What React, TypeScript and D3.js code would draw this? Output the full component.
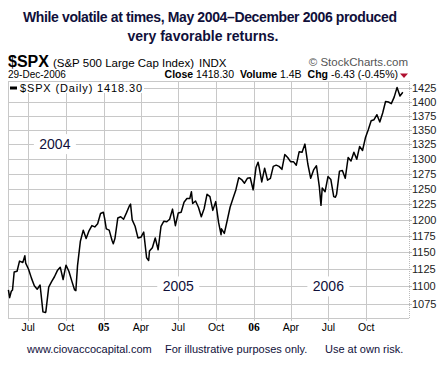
import * as d3 from "d3";
import React from "react";

// weekly closes (plus a few intraweek extremes)
const spx2004: [string, number][] = [
  ["2004-05-14", 1095], ["2004-05-17", 1084], ["2004-05-21", 1093], ["2004-05-24", 1095],
  ["2004-05-28", 1121], ["2004-06-04", 1122], ["2004-06-10", 1137], ["2004-06-18", 1135],
  ["2004-06-23", 1145], ["2004-06-25", 1134], ["2004-07-02", 1125], ["2004-07-09", 1112],
  ["2004-07-16", 1101], ["2004-07-23", 1096], ["2004-07-30", 1102], ["2004-08-06", 1064],
  ["2004-08-12", 1063], ["2004-08-13", 1064], ["2004-08-20", 1099], ["2004-08-27", 1107],
  ["2004-09-03", 1114], ["2004-09-10", 1123], ["2004-09-17", 1128], ["2004-09-24", 1110],
  ["2004-10-01", 1131], ["2004-10-08", 1122], ["2004-10-15", 1108], ["2004-10-22", 1095],
  ["2004-10-25", 1094], ["2004-10-29", 1130], ["2004-11-05", 1167], ["2004-11-12", 1184],
  ["2004-11-19", 1171], ["2004-11-26", 1183], ["2004-12-03", 1191], ["2004-12-10", 1189],
  ["2004-12-17", 1194], ["2004-12-24", 1210], ["2004-12-31", 1212],
];

const spx2005: [string, number][] = [
  ["2005-01-03", 1202], ["2005-01-07", 1186], ["2005-01-14", 1184], ["2005-01-21", 1168],
  ["2005-01-24", 1163], ["2005-01-28", 1171], ["2005-02-04", 1203], ["2005-02-11", 1205],
  ["2005-02-18", 1201], ["2005-02-25", 1211], ["2005-03-04", 1222], ["2005-03-07", 1225],
  ["2005-03-11", 1200], ["2005-03-18", 1190], ["2005-03-25", 1172], ["2005-04-01", 1173],
  ["2005-04-08", 1181], ["2005-04-15", 1142], ["2005-04-20", 1138], ["2005-04-22", 1152],
  ["2005-04-29", 1157], ["2005-05-06", 1172], ["2005-05-13", 1154], ["2005-05-20", 1190],
  ["2005-05-27", 1198], ["2005-06-03", 1197], ["2005-06-10", 1201], ["2005-06-17", 1217],
  ["2005-06-24", 1191], ["2005-07-01", 1211], ["2005-07-08", 1212], ["2005-07-15", 1228],
  ["2005-07-22", 1234], ["2005-07-29", 1234], ["2005-08-02", 1245], ["2005-08-05", 1226],
  ["2005-08-12", 1230], ["2005-08-19", 1220], ["2005-08-26", 1205], ["2005-09-02", 1218],
  ["2005-09-09", 1241], ["2005-09-16", 1237], ["2005-09-23", 1215], ["2005-09-30", 1229],
  ["2005-10-07", 1196], ["2005-10-13", 1177], ["2005-10-14", 1186], ["2005-10-21", 1179],
  ["2005-10-28", 1199], ["2005-11-04", 1220], ["2005-11-11", 1234], ["2005-11-18", 1248],
  ["2005-11-25", 1268], ["2005-12-02", 1265], ["2005-12-09", 1259], ["2005-12-16", 1267],
  ["2005-12-23", 1268], ["2005-12-30", 1248],
];

const spx2006: [string, number][] = [
  ["2006-01-06", 1285], ["2006-01-11", 1294], ["2006-01-13", 1288], ["2006-01-20", 1261],
  ["2006-01-27", 1284], ["2006-02-03", 1264], ["2006-02-10", 1267], ["2006-02-17", 1287],
  ["2006-02-24", 1289], ["2006-03-03", 1287], ["2006-03-10", 1282], ["2006-03-17", 1307],
  ["2006-03-24", 1302], ["2006-03-31", 1295], ["2006-04-07", 1295], ["2006-04-14", 1289],
  ["2006-04-21", 1312], ["2006-04-28", 1311], ["2006-05-05", 1325], ["2006-05-12", 1291],
  ["2006-05-19", 1267], ["2006-05-26", 1281], ["2006-06-02", 1288], ["2006-06-09", 1253],
  ["2006-06-13", 1223], ["2006-06-16", 1251], ["2006-06-23", 1245], ["2006-06-30", 1270],
  ["2006-07-07", 1265], ["2006-07-14", 1237], ["2006-07-18", 1236], ["2006-07-21", 1241],
  ["2006-07-28", 1279], ["2006-08-04", 1280], ["2006-08-11", 1267], ["2006-08-18", 1302],
  ["2006-08-25", 1296], ["2006-09-01", 1311], ["2006-09-08", 1299], ["2006-09-15", 1321],
  ["2006-09-22", 1314], ["2006-09-29", 1336], ["2006-10-06", 1350], ["2006-10-13", 1366],
  ["2006-10-20", 1368], ["2006-10-27", 1377], ["2006-11-03", 1364], ["2006-11-10", 1380],
  ["2006-11-17", 1401], ["2006-11-24", 1400], ["2006-12-01", 1397], ["2006-12-08", 1409],
  ["2006-12-15", 1427], ["2006-12-22", 1411], ["2006-12-29", 1418],
];

const yTicks = [1075, 1100, 1125, 1150, 1175, 1200, 1225, 1250, 1275, 1300, 1325, 1350, 1375, 1400, 1425];
const xTicks: [string, string, boolean][] = [
  ["2004-07-01", "Jul", false], ["2004-10-01", "Oct", false], ["2005-01-01", "05", true],
  ["2005-04-01", "Apr", false], ["2005-07-01", "Jul", false], ["2005-10-01", "Oct", false],
  ["2006-01-01", "06", true], ["2006-04-01", "Apr", false], ["2006-07-01", "Jul", false],
  ["2006-10-01", "Oct", false],
];
// year notes: label, date for x, level for y
const yearNotes: [string, string, number][] = [
  ["2004", "2004-09-04", 1325],
  ["2005", "2005-07-01", 1100],
  ["2006", "2006-07-01", 1100],
];

const W = 445;
const H = 372;
const left = 8;
const right = 409;
const top = 81;
const bottom = 318;
const ink = "#10103a";
const sans = "'Liberation Sans', Arial, sans-serif";

const parse = d3.timeParse("%Y-%m-%d");

const App: React.FC = () => {
  const data = [...spx2004, ...spx2005, ...spx2006].map(([d, v]) => ({ date: parse(d)!, v }));

  const x = d3
    .scaleTime()
    .domain([parse("2004-05-13")!, parse("2007-01-13")!])
    .range([left, right]);
  const y = d3.scaleLog().domain([1055.5, 1439]).range([bottom, top]);

  const line = d3
    .line<{ date: Date; v: number }>()
    .x((d) => x(d.date))
    .y((d) => y(d.v));

  return (
    <svg width={W} height={H} style={{ position: "absolute", left: 0, top: 0, background: "#fff" }}>
      <rect width={W} height={H} fill="#fff" />
      {/* title */}
      <text x={210} y={22} textAnchor="middle" fontFamily={sans} fontWeight="bold" fontSize={14} fill={ink} textLength={374}>
        While volatile at times, May 2004–December 2006 produced
      </text>
      <text x={203} y={41} textAnchor="middle" fontFamily={sans} fontWeight="bold" fontSize={14} fill={ink}>
        very favorable returns.
      </text>

      {/* header */}
      <text x={8} y={67} fontFamily={sans} fill="#000">
        <tspan fontSize={16} fontWeight="bold">$SPX</tspan>
        <tspan fontSize={11.5} dx={4}>(S&amp;P 500 Large Cap Index)</tspan>
        <tspan fontSize={11.5} dx={5}>INDX</tspan>
      </text>
      <text x={408} y={66} textAnchor="end" fontFamily={sans} fontSize={11.5} fill="#555">
        © StockCharts.com
      </text>
      <text x={8} y={78} fontFamily={sans} fontSize={10} fill="#000">29-Dec-2006</text>
      <text x={398} y={78} textAnchor="end" fontFamily={sans} fontSize={10.5} fill="#000">
        <tspan fontWeight="bold">Close</tspan>
        <tspan> 1418.30 </tspan>
        <tspan fontWeight="bold" dx={3}>Volume</tspan>
        <tspan> 1.4B </tspan>
        <tspan fontWeight="bold" dx={3}>Chg</tspan>
        <tspan> -6.43 (-0.45%)</tspan>
      </text>
      <path d="M400,73.5 L408,73.5 L404,78 Z" fill="#b01030" />

      {/* grid */}
      <g stroke="#c8c8c8" strokeWidth={1}>
        {yTicks.map((t) => (
          <line key={t} x1={left} x2={right} y1={Math.round(y(t)) + 0.5} y2={Math.round(y(t)) + 0.5} />
        ))}
        {xTicks.map(([d]) => {
          const xx = Math.round(x(parse(d)!)) + 0.5;
          return <line key={d} x1={xx} x2={xx} y1={top} y2={bottom + 3} />;
        })}
        <line x1={left + 0.5} x2={left + 0.5} y1={top} y2={bottom} />
        <line x1={left} x2={right} y1={top + 0.5} y2={top + 0.5} />
        <line x1={left} x2={right} y1={bottom + 0.5} y2={bottom + 0.5} />
      </g>
      <line x1={right + 0.5} x2={right + 0.5} y1={top} y2={bottom} stroke="#bbb" strokeDasharray="1,1" />

      {/* y labels */}
      {yTicks.map((t) => (
        <g key={t}>
          <line x1={right} x2={right + 3} y1={Math.round(y(t)) + 0.5} y2={Math.round(y(t)) + 0.5} stroke="#bbb" />
          <text x={412} y={y(t) + 4} fontFamily={sans} fontSize={11} fill="#222">{t}</text>
        </g>
      ))}

      {/* x labels */}
      {xTicks.map(([d, label, bold]) => (
        <text
          key={d}
          x={x(parse(d)!)}
          y={331}
          textAnchor="middle"
          fontFamily={bold ? "'Liberation Serif', serif" : sans}
          fontWeight={bold ? "bold" : "normal"}
          fontSize={bold ? 11.5 : 10.5}
          fill="#000"
        >
          {label}
        </text>
      ))}

      {/* year notes */}
      {yearNotes.map(([label, d, lvl]) => {
        const cx = x(parse(d)!);
        const cy = y(lvl);
        return (
          <g key={label}>
            <rect x={cx - 21} y={cy - 10} width={42} height={20} fill="#fff" />
            <text x={cx} y={cy + 5} textAnchor="middle" fontFamily={sans} fontSize={14} fill={ink}>
              {label}
            </text>
          </g>
        );
      })}

      {/* legend */}
      <rect x={left + 1} y={top + 1} width={135} height={11} fill="#fff" />
      <line x1={10} x2={17} y1={88} y2={88} stroke="#000" strokeWidth={3} />
      <text x={20} y={92} fontFamily={sans} fontSize={11} fill="#000" textLength={122}>
        $SPX (Daily) 1418.30
      </text>

      {/* series */}
      <path d={line(data) ?? ""} fill="none" stroke="#000" strokeWidth={1.5} strokeLinejoin="round" />

      {/* footer */}
      <g fontFamily={sans} fontSize={11} fill={ink}>
        <text x={27} y={353}>www.ciovaccocapital.com</text>
        <text x={165} y={353}>For illustrative purposes only.</text>
        <text x={325} y={353}>Use at own risk.</text>
      </g>
    </svg>
  );
};

export default App;
